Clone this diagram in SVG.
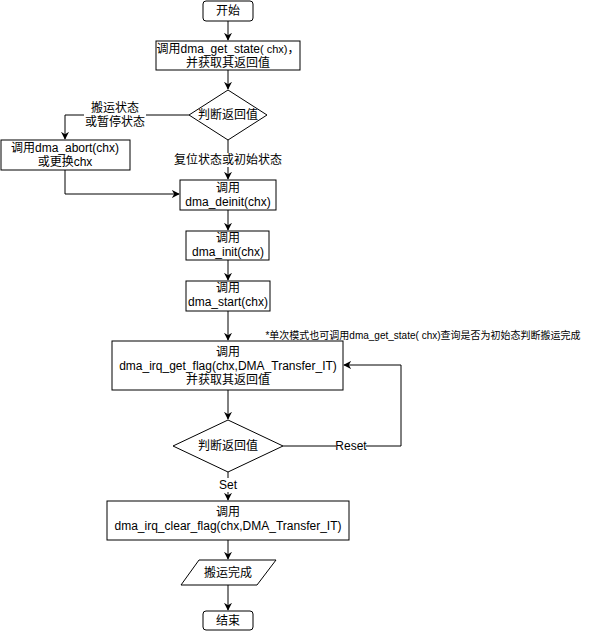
<svg xmlns="http://www.w3.org/2000/svg" width="594" height="631" viewBox="0 0 594 631">
<defs>
<style>
.n{fill:#fff;stroke:#000;stroke-width:1}
.t{font-family:"Liberation Sans","Noto Sans CJK SC",Arial,sans-serif;font-size:12px;fill:#000;text-anchor:middle}
.s{font-size:11px}
.c{fill:none;stroke:#000;stroke-width:1}
.lb{fill:#fff}
</style>
<marker id="a" viewBox="0 0 10 10" refX="9" refY="5" markerWidth="8" markerHeight="8" markerUnits="userSpaceOnUse" orient="auto">
<path d="M0,0 L10,5 L0,10 L3,5 Z" fill="#000"/>
</marker>
</defs>
<rect width="594" height="631" fill="#fff"/>
<g id="connectors">
<path class="c" d="M228,21 V40" marker-end="url(#a)"/>
<path class="c" d="M228,70 V89" marker-end="url(#a)"/>
<path class="c" d="M189,115 H65 V139" marker-end="url(#a)"/>
<path class="c" d="M228,140 V179" marker-end="url(#a)"/>
<path class="c" d="M65,170 V194 H179" marker-end="url(#a)"/>
<path class="c" d="M228,210 V230" marker-end="url(#a)"/>
<path class="c" d="M228,260 V280" marker-end="url(#a)"/>
<path class="c" d="M228,311 V340" marker-end="url(#a)"/>
<path class="c" d="M228,390 V419" marker-end="url(#a)"/>
<path class="c" d="M283,446 H401 V365 H344" marker-end="url(#a)"/>
<path class="c" d="M228,472 V500" marker-end="url(#a)"/>
<path class="c" d="M228,540 V559" marker-end="url(#a)"/>
<path class="c" d="M228,585 V610" marker-end="url(#a)"/>
<rect class="lb" x="84" y="100" width="62" height="28"/>
<text class="t" x="115" y="112">搬运状态</text>
<text class="t" x="115" y="126">或暂停状态</text>
<rect class="lb" x="176" y="153" width="104" height="14"/>
<text class="t" x="228" y="164">复位状态或初始状态</text>
<rect class="lb" x="336" y="439" width="30" height="14"/>
<text class="t" x="351" y="450">Reset</text>
<rect class="lb" x="218" y="478" width="20" height="14"/>
<text class="t" x="228" y="489">Set</text>
</g>
<g id="start">
<rect class="n" x="203" y="1" width="50" height="20" rx="3"/>
<text class="t" x="228" y="15">开始</text>
</g>
<g id="get_state">
<rect class="n" x="156" y="41" width="144" height="29"/>
<text class="t" x="228" y="53">调用dma_get_state<tspan class="s">( chx)</tspan>，</text>
<text class="t" x="228" y="67">并获取其返回值</text>
</g>
<g id="decision1">
<polygon class="n" points="228,90 267,115 228,140 189,115"/>
<text class="t" x="228" y="119">判断返回值</text>
</g>
<g id="abort">
<rect class="n" x="1" y="140" width="129" height="30"/>
<text class="t" x="65" y="152">调用dma_abort(chx)</text>
<text class="t" x="65" y="166">或更换chx</text>
</g>
<g id="deinit">
<rect class="n" x="180" y="180" width="96" height="30"/>
<text class="t" x="228" y="192">调用</text>
<text class="t" x="228" y="206">dma_deinit(chx)</text>
</g>
<g id="init">
<rect class="n" x="186" y="231" width="83" height="29"/>
<text class="t" x="228" y="242">调用</text>
<text class="t" x="228" y="256">dma_init(chx)</text>
</g>
<g id="start_dma">
<rect class="n" x="186" y="281" width="84" height="30"/>
<text class="t" x="228" y="292">调用</text>
<text class="t" x="228" y="306">dma_start(chx)</text>
</g>
<g id="note">
<text class="t" x="423" y="339" style="font-size:10px">*单次模式也可调用dma_get_state( chx)查询是否为初始态判断搬运完成</text>
</g>
<g id="get_flag">
<rect class="n" x="112" y="341" width="231" height="49"/>
<text class="t" x="228" y="356">调用</text>
<text class="t" x="228" y="370">dma_irq_get_flag(chx,DMA_Transfer_IT)</text>
<text class="t" x="228" y="384">并获取其返回值</text>
</g>
<g id="decision2">
<polygon class="n" points="228,420 283,446 228,472 173,446"/>
<text class="t" x="228" y="450">判断返回值</text>
</g>
<g id="clear_flag">
<rect class="n" x="107" y="501" width="242" height="39"/>
<text class="t" x="228" y="516">调用</text>
<text class="t" x="228" y="530">dma_irq_clear_flag(chx,DMA_Transfer_IT)</text>
</g>
<g id="done">
<polygon class="n" points="199,560 276,560 257,585 181,585"/>
<text class="t" x="228" y="577">搬运完成</text>
</g>
<g id="end">
<rect class="n" x="203" y="611" width="50" height="19" rx="3"/>
<text class="t" x="228" y="625">结束</text>
</g>
</svg>
